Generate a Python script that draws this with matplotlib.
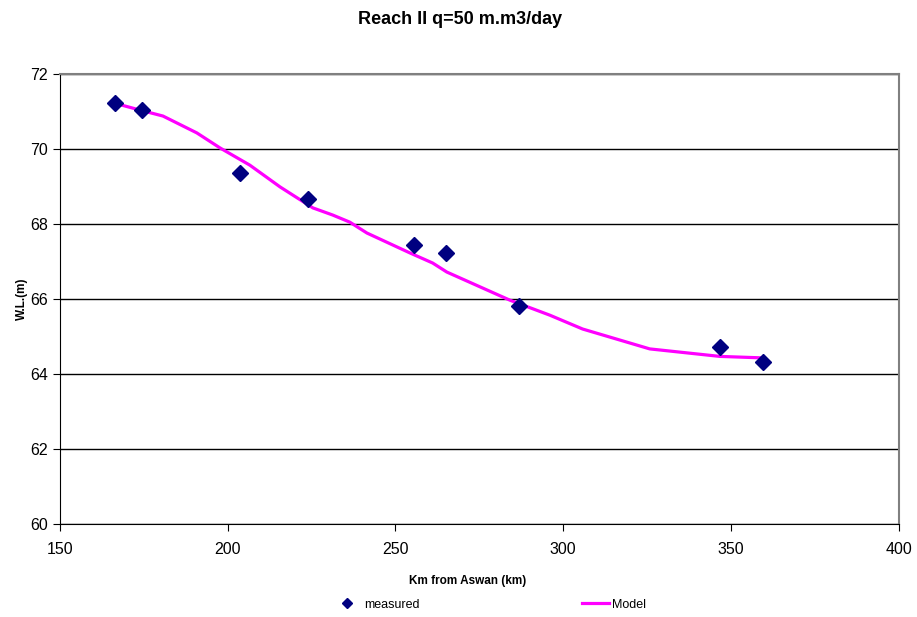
import matplotlib.pyplot as plt
from matplotlib.lines import Line2D

plt.rcParams['font.family'] = ['Liberation Sans', 'DejaVu Sans']

# measured water levels
meas_km = [166.4, 174.5, 203.6, 224.0, 255.6, 265.0, 286.8, 346.7, 359.7]
meas_wl = [71.22, 71.04, 69.35, 68.66, 67.44, 67.22, 65.82, 64.71, 64.31]

# model profile
model_km = [166.4, 173.8, 180.7, 190.8, 197.7, 206.6, 215.6, 225.4, 231.3, 236.4,
            241.5, 254.3, 261.1, 265.3, 284.1, 296.0, 305.8, 325.8, 346.7, 359.5]
model_wl = [71.22, 71.04, 70.88, 70.43, 70.03, 69.57, 68.99, 68.43, 68.24, 68.05,
            67.76, 67.23, 66.96, 66.72, 65.97, 65.57, 65.20, 64.67, 64.47, 64.43]

fig = plt.figure(figsize=(9.17, 6.17), dpi=100)
ax = fig.add_axes([0.0654, 0.1507, 0.9146, 0.7293])

ax.plot(model_km, model_wl, color='#FF00FF', lw=2.3, zorder=3)
ax.plot(meas_km, meas_wl, linestyle='none', marker='D', markersize=8.5,
        color='#000080', zorder=4)

ax.set_xlim(150, 400)
ax.set_ylim(60, 72)
ax.set_xticks(range(150, 401, 50))
ax.set_yticks(range(60, 73, 2))
ax.grid(axis='y', color='black', lw=1)
ax.set_axisbelow(True)
ax.tick_params(labelsize=11.5, length=5, color='black')
ax.tick_params(axis='x', pad=8)
for s in ['top', 'right']:
    ax.spines[s].set_color('#808080')
    ax.spines[s].set_linewidth(1.5)

ax.set_xlabel('Km from Aswan (km)', fontsize=8.5, fontweight='bold', labelpad=8)
ax.xaxis.set_label_coords(0.486, -0.113)
ax.set_ylabel('W.L.(m)', fontsize=8.5, fontweight='bold', labelpad=2)
fig.suptitle('Reach II q=50 m.m3/day', fontsize=13, fontweight='bold', x=0.502, y=0.982)

handles = [Line2D([], [], linestyle='none', marker='D', markersize=5.5, color='#000080'),
           Line2D([], [], color='#FF00FF', lw=2.3)]
fig.legend(handles, ['measured', 'Model'], loc='center', bbox_to_anchor=(0.534, 0.02),
           ncol=2, frameon=False, fontsize=9, columnspacing=13, handlelength=2.2,
           handletextpad=0.2)

fig.savefig('out.png', dpi=100)
